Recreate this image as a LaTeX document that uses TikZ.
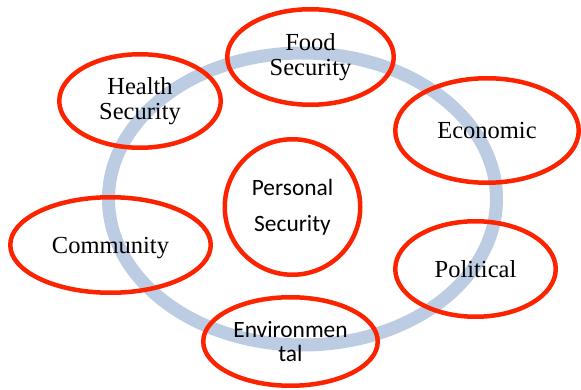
\documentclass[tikz,border=0pt]{standalone}
\usepackage{fontspec}
\setmainfont{Liberation Serif}
\newfontfamily\calib{Carlito}
\usepackage{tikz}
\usetikzlibrary{shapes.geometric}

\definecolor{ringblue}{RGB}{187,204,227}
\definecolor{secred}{RGB}{252,36,0}

\begin{document}
\begin{tikzpicture}[x=1pt, y=-1pt,
            area/.style={ellipse, draw=secred, line width=4.5pt, inner sep=0pt, align=center,
                         font=\fontsize{24.5}{24.5}\selectfont},
            sans/.style={font=\calib\fontsize{23.4}{24}\selectfont}]
            \useasboundingbox (0,0) rectangle (581,390);

            % big ring behind everything
            \node[inner sep=0pt] (mid) at (302.5,199) {};
            \draw[ringblue, line width=13pt] (mid) ellipse (194 and 146);

            % centre
            \node[area, circle, minimum size=135.5pt, sans,
                  font=\calib\fontsize{23.4}{36}\selectfont] (pers) at (292.5,207) {Personal\\Security};

            % around the ring
            \node[area, minimum width=166.5pt, minimum height=95.5pt] (food) at (310.5,57) {Food\\Security};
            \node[area, minimum width=161.5pt, minimum height=93.5pt] (health) at (140,101) {Health\\Security};
            \node[area, minimum width=183.5pt, minimum height=104.5pt] (econ) at (487,130.5) {Economic};
            \node[area, minimum width=200.5pt, minimum height=95.5pt, text depth=0pt] (comm) at (110.5,245) {Community};
            \node[area, minimum width=160.5pt, minimum height=95.5pt] (pol) at (475.5,269) {Political};
            \node[area, minimum width=174.5pt, minimum height=88.5pt, sans] (env) at (290.5,341.5) {Environmen\\tal};
\end{tikzpicture}
\end{document}
